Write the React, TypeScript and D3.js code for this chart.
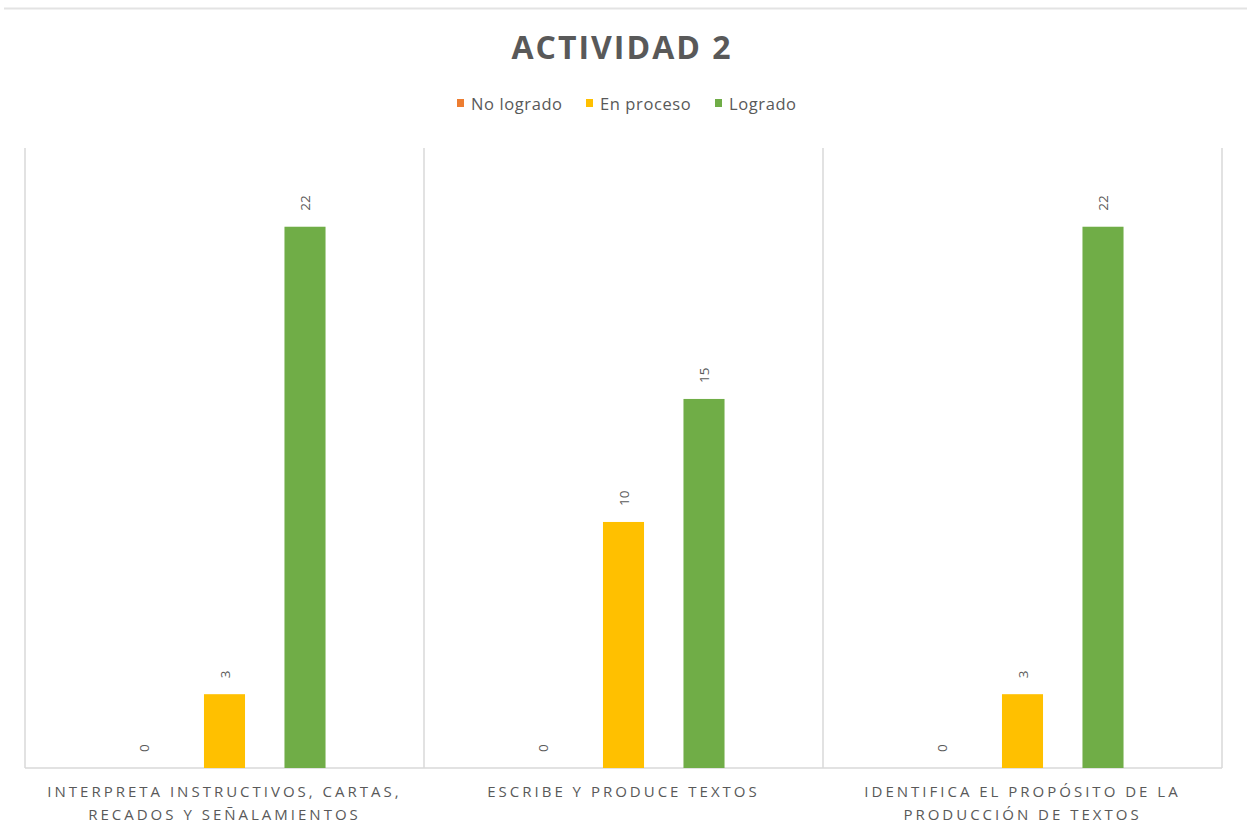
import React from "react";
import * as d3 from "d3";

const title = "ACTIVIDAD 2";
const categories = [
  ["INTERPRETA INSTRUCTIVOS, CARTAS,", "RECADOS Y SEÑALAMIENTOS"],
  ["ESCRIBE Y PRODUCE TEXTOS"],
  ["IDENTIFICA EL PROPÓSITO DE LA", "PRODUCCIÓN DE TEXTOS"],
];
const seriesNames = ["No logrado", "En proceso", "Logrado"];
const seriesColors = ["#ED7D31", "#FFC000", "#70AD47"];
const noLogrado = [0, 0, 0];
const enProceso = [3, 10, 3];
const logrado = [22, 15, 22];
const seriesValues = [noLogrado, enProceso, logrado];

const W = 1247;
const H = 836;
const left = 25;
const right = 1222;
const top = 148;
const bottom = 768;
const FONT = "'Open Sans', 'DejaVu Sans', sans-serif";
const GRAY = "#595959";
const LINE = "#d9d9d9";

export default function App() {
  const catIdx = categories.map((_, i) => String(i));
  const x0 = d3.scaleBand().domain(catIdx).range([left, right]).padding(0);
  const y = d3.scaleLinear().domain([0, 25.2]).range([bottom, top]);
  const groupHalf = 120.75;
  const x1 = d3
    .scaleBand()
    .domain(seriesNames)
    .range([-groupHalf, groupHalf])
    .paddingInner(0.49)
    .paddingOuter(0.245);

  const legendX = [457, 586, 715];

  return (
    <svg
      width={W}
      height={H}
      style={{ position: "absolute", left: 0, top: 0, background: "#fff" }}
      fontFamily={FONT}
    >
      <line x1={4} x2={W} y1={8.5} y2={8.5} stroke="#e3e3e3" strokeWidth={2} />
      <text
        x={622}
        y={59}
        textAnchor="middle"
        fontSize={32}
        fontWeight="bold"
        fill={GRAY}
        letterSpacing={2}
      >
        {title}
      </text>
      {seriesNames.map((s, i) => (
        <g key={s} transform={`translate(${legendX[i]},0)`}>
          <rect x={0} y={99} width={7} height={8} fill={seriesColors[i]} />
          <text x={14} y={109.5} fontSize={16.5} letterSpacing={0.6} fill={GRAY}>
            {s}
          </text>
        </g>
      ))}
      {d3.range(categories.length + 1).map((i) => {
        const x = left + i * x0.step();
        return (
          <line key={i} x1={x} x2={x} y1={top} y2={bottom} stroke={LINE} strokeWidth={1.5} />
        );
      })}
      <line x1={left} x2={right} y1={bottom} y2={bottom} stroke={LINE} strokeWidth={1.5} />
      {catIdx.map((c, ci) => {
        const cx = (x0(c) as number) + x0.bandwidth() / 2;
        return (
          <g key={c}>
            {seriesNames.map((s, si) => {
              const v = seriesValues[si][ci];
              const bx = cx + (x1(s) as number);
              const bw = x1.bandwidth();
              const yt = y(v);
              return (
                <g key={s}>
                  <rect x={bx} y={yt} width={bw} height={bottom - yt} fill={seriesColors[si]} />
                  <text
                    transform={`translate(${bx + bw / 2},${yt - 16}) rotate(-90)`}
                    textAnchor="start"
                    dominantBaseline="central"
                    fontSize={13.5}
                    fill={GRAY}
                  >
                    {v}
                  </text>
                </g>
              );
            })}
            {categories[ci].map((line, li) => (
              <text
                key={li}
                x={cx}
                y={797 + li * 23}
                textAnchor="middle"
                fontSize={15}
                letterSpacing={3}
                fill={GRAY}
              >
                {line}
              </text>
            ))}
          </g>
        );
      })}
    </svg>
  );
}
